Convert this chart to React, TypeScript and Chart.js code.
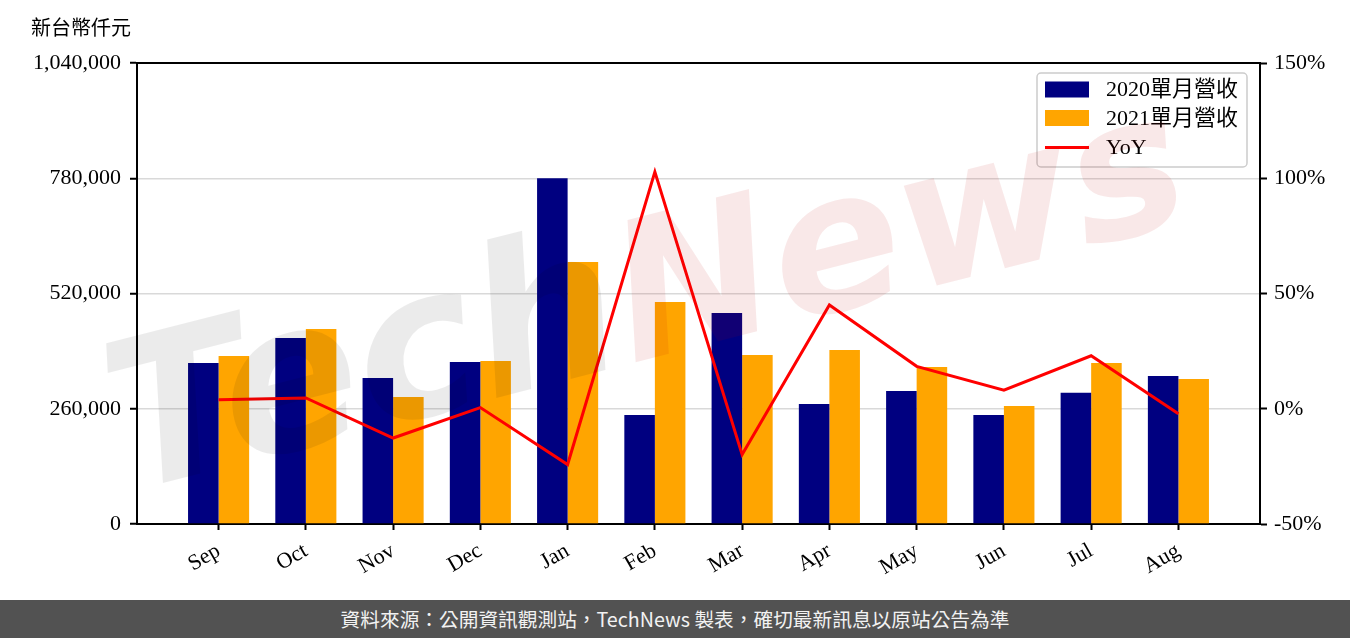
import React, { useEffect, useRef } from "react";
import { Chart, registerables } from "chart.js";

Chart.register(...registerables);

const months = ["Sep", "Oct", "Nov", "Dec", "Jan", "Feb", "Mar", "Apr", "May", "Jun", "Jul", "Aug"];
const rev2020 = [363000, 419600, 329400, 365500, 780000, 245900, 476000, 270700, 300000, 245900, 296200, 333900];
const rev2021 = [379000, 439900, 286500, 367700, 591000, 500800, 381300, 392500, 354200, 266200, 363200, 327100];
const yoy = [3.9, 4.7, -12.7, 0.5, -24.2, 102.8, -19.9, 45.0, 18.4, 8.1, 23.0, -2.2];
const leftTicks = [0, 260000, 520000, 780000, 1040000];
const rightTicks = [-50, 0, 50, 100, 150];
const legendLabels = ["2020單月營收", "2021單月營收", "YoY"];

const SERIF = "'Liberation Serif', 'Noto Sans CJK TC', serif";
const NAVY = "#000080";
const ORANGE = "#FFA500";
const RED = "#FF0000";

const decorPlugin = {
  id: "decor",
  afterDatasetsDraw(chart: any) {
    const { ctx } = chart;
    // legend
    ctx.save();
    const lx = 1037, ly = 73, lw = 210, lh = 94, r = 4;
    ctx.beginPath();
    ctx.moveTo(lx + r, ly);
    ctx.arcTo(lx + lw, ly, lx + lw, ly + lh, r);
    ctx.arcTo(lx + lw, ly + lh, lx, ly + lh, r);
    ctx.arcTo(lx, ly + lh, lx, ly, r);
    ctx.arcTo(lx, ly, lx + lw, ly, r);
    ctx.closePath();
    ctx.fillStyle = "rgba(255,255,255,0.8)";
    ctx.fill();
    ctx.strokeStyle = "#cccccc";
    ctx.lineWidth = 1.5;
    ctx.stroke();
    const rows = [89.5, 118, 147.5];
    ctx.fillStyle = NAVY;
    ctx.fillRect(1045, rows[0] - 8, 44, 16);
    ctx.fillStyle = ORANGE;
    ctx.fillRect(1045, rows[1] - 8, 44, 16);
    ctx.strokeStyle = RED;
    ctx.lineWidth = 3;
    ctx.beginPath();
    ctx.moveTo(1045, rows[2]);
    ctx.lineTo(1089, rows[2]);
    ctx.stroke();
    ctx.fillStyle = "#000";
    ctx.font = `22px ${SERIF}`;
    ctx.textBaseline = "middle";
    ctx.textAlign = "left";
    legendLabels.forEach((t, i) => ctx.fillText(t, 1106, rows[i] + 1));
    ctx.restore();

    // watermark
    ctx.save();
    ctx.translate(128, 492);
    ctx.rotate(-0.25);
    ctx.textBaseline = "alphabetic";
    ctx.textAlign = "left";
    ctx.font = "italic bold 205px 'DejaVu Sans'";
    ctx.fillStyle = "rgba(0,0,0,0.08)";
    ctx.fillText("Tech", 0, 0);
    const w = ctx.measureText("Tech").width;
    ctx.font = "italic bold 192px 'DejaVu Sans'";
    ctx.fillStyle = "rgba(194,0,0,0.09)";
    ctx.fillText("News", w, 0);
    ctx.restore();
  },
  afterDraw(chart: any) {
    const { ctx, chartArea: a } = chart;
    ctx.save();
    ctx.strokeStyle = "#000";
    ctx.lineWidth = 2;
    ctx.beginPath();
    ctx.moveTo(a.left - 1, a.top);
    ctx.lineTo(a.right + 1, a.top);
    ctx.stroke();
    ctx.fillStyle = "#000";
    ctx.font = "20px 'Noto Sans CJK TC'";
    ctx.textBaseline = "middle";
    ctx.textAlign = "left";
    ctx.fillText("新台幣仟元", 31, 27);
    ctx.restore();
  },
};

export default function App() {
  const ref = useRef<HTMLCanvasElement | null>(null);

  useEffect(() => {
    document.body.style.margin = "0";
    const canvas = ref.current;
    if (!canvas) return;
    const chart = new Chart(canvas, {
      type: "bar",
      data: {
        datasets: [
          {
            type: "line",
            label: "YoY",
            data: yoy.map((v, i) => ({ x: i, y: v })),
            yAxisID: "y1",
            borderColor: RED,
            backgroundColor: RED,
            borderWidth: 3,
            pointRadius: 0,
            tension: 0,
            order: 0,
          } as any,
          {
            label: "2020單月營收",
            data: rev2020.map((v, i) => ({ x: i, y: v })),
            backgroundColor: NAVY,
            yAxisID: "y",
            order: 1,
          },
          {
            label: "2021單月營收",
            data: rev2021.map((v, i) => ({ x: i, y: v })),
            backgroundColor: ORANGE,
            yAxisID: "y",
            order: 1,
          },
        ],
      },
      options: {
        animation: false,
        responsive: false,
        devicePixelRatio: 1,
        categoryPercentage: 0.7,
        barPercentage: 1.0,
        layout: { padding: { top: 63, left: 0, right: 0, bottom: 0 } },
        plugins: {
          legend: { display: false },
          tooltip: { enabled: false },
        },
        scales: {
          x: {
            type: "linear",
            min: -0.935,
            max: 11.935,
            offset: false,
            afterBuildTicks: (s: any) => {
              s.ticks = months.map((_, i) => ({ value: i }));
            },
            afterFit: (s: any) => {
              s.height = 76;
            },
            grid: {
              offset: false,
              drawOnChartArea: false,
              tickLength: 6,
              tickWidth: 2,
              tickColor: "#000",
            },
            border: { color: "#000", width: 2 },
            ticks: {
              autoSkip: false,
              minRotation: 30,
              maxRotation: 30,
              padding: 8,
              color: "#000",
              font: { family: SERIF, size: 22 },
              callback: (v: any) => months[v] ?? "",
            },
          },
          y: {
            type: "linear",
            position: "left",
            min: 0,
            max: 1040000,
            afterBuildTicks: (s: any) => {
              s.ticks = leftTicks.map((v) => ({ value: v }));
            },
            afterFit: (s: any) => {
              s.width = 137;
            },
            grid: {
              color: "#d9d9d9",
              lineWidth: 1.5,
              tickLength: 7,
              tickWidth: 2,
              tickColor: "#000",
            },
            border: { color: "#000", width: 2 },
            ticks: {
              padding: 9,
              color: "#000",
              font: { family: SERIF, size: 22 },
              callback: (v: any) => Number(v).toLocaleString("en-US"),
            },
          },
          y1: {
            type: "linear",
            position: "right",
            min: -50,
            max: 150,
            afterBuildTicks: (s: any) => {
              s.ticks = rightTicks.map((v) => ({ value: v }));
            },
            afterFit: (s: any) => {
              s.width = 90;
            },
            grid: {
              drawOnChartArea: false,
              tickLength: 7,
              tickWidth: 2,
              tickColor: "#000",
            },
            border: { color: "#000", width: 2 },
            ticks: {
              padding: 7,
              color: "#000",
              font: { family: SERIF, size: 22 },
              callback: (v: any) => `${v}%`,
            },
          },
        },
      } as any,
      plugins: [decorPlugin],
    });
    return () => chart.destroy();
  }, []);

  return (
    <div style={{ position: "absolute", left: 0, top: 0, width: 1350, height: 638, background: "#fff" }}>
      <canvas ref={ref} width={1350} height={600} style={{ display: "block", width: 1350, height: 600 }} />
      <div
        style={{
          position: "absolute",
          left: 0,
          top: 600,
          width: 1350,
          height: 38,
          background: "#525252",
          color: "#f2f2f2",
          fontFamily: "'Noto Sans CJK TC', sans-serif",
          fontSize: 19.7,
          lineHeight: "38px",
          textAlign: "center",
          whiteSpace: "nowrap",
        }}
      >
        資料來源：公開資訊觀測站，TechNews 製表，確切最新訊息以原站公告為準
      </div>
    </div>
  );
}
